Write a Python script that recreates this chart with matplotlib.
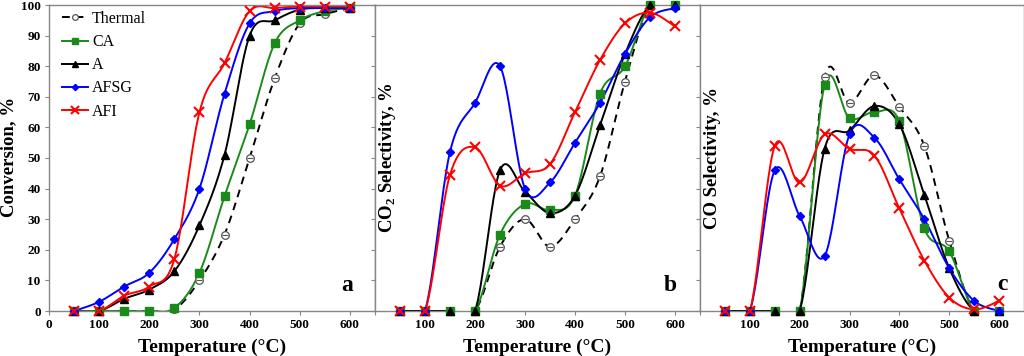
import numpy as np
import matplotlib
matplotlib.use("Agg")
import matplotlib.pyplot as plt

plt.rcParams['font.family'] = ['Liberation Serif', 'DejaVu Serif']
plt.rcParams['mathtext.fontset'] = 'custom'
plt.rcParams['mathtext.rm'] = 'Liberation Serif:bold'
plt.rcParams['mathtext.bf'] = 'Liberation Serif:bold'

temps = [50, 100, 150, 200, 250, 300, 350, 400, 450, 500, 550, 600]
series_names = ["Thermal", "CA", "A", "AFSG", "AFI"]

# Panel a: conversion, %
conv_thermal = [0, 0, 0, 0, 0.5, 10, 25, 50, 76, 94, 97, 99]
conv_ca = [0, 0, 0, 0, 1, 12.5, 37.5, 61, 87.5, 95, 98, 99]
conv_a = [0, 0, 4, 7, 13, 28, 51, 90, 95, 98.5, 99, 99]
conv_afsg = [0, 3, 8, 12.5, 23.5, 40, 71, 94, 98, 99, 99, 99]
conv_afi = [0, 0, 5, 8, 17, 65, 81, 98, 99, 99.5, 99.5, 99.5]

# Panel b: CO2 selectivity, %
co2_thermal = [0, 0, 0, 0, 21, 30, 21, 30, 44, 75, 100, 100]
co2_ca = [0, 0, 0, 0, 25, 35, 33, 37.7, 71, 80, 100, 100]
co2_a = [0, 0, 0, 0, 46, 39, 32, 37.7, 60.7, 84, 100, 100]
co2_afsg = [0, 0, 52, 68, 80, 40, 42, 55, 68, 84, 96, 99]
co2_afi = [0, 0, 44.5, 53.5, 41, 45, 48, 65, 82, 94, 97.5, 93]

# Panel c: CO selectivity, %
co_thermal = [0, 0, 0, 0, 76.4, 68, 77, 66.7, 54, 23, 0, 0]
co_ca = [0, 0, 0, 0, 74, 63, 65, 62, 27, 19.5, 0, 0]
co_a = [0, 0, 0, 0, 53, 59, 67, 61, 38, 14, 0, 0]
co_afsg = [0, 0, 46, 31, 18, 57.7, 56.6, 43, 30, 14, 3.3, 0]
co_afi = [0, 0, 54, 42, 57.7, 53, 50.8, 33.5, 16.5, 4.4, 0.5, 3.3]

panels = [
    ([conv_thermal, conv_ca, conv_a, conv_afsg, conv_afi], "Conversion, %", "a"),
    ([co2_thermal, co2_ca, co2_a, co2_afsg, co2_afi], "CO$_\\mathregular{2}$ Selectivity, %", "b"),
    ([co_thermal, co_ca, co_a, co_afsg, co_afi], "CO Selectivity, %", "c"),
]

styles = {
    "Thermal": dict(color="black", ls=(0, (4, 3)), marker="o", mfc="white", mec="#555555", ms=5.5, mew=0.9),
    "CA": dict(color="#1a8a1a", ls="-", marker="s", mfc="#1a8a1a", mec="#1a8a1a", ms=5.5, mew=1),
    "A": dict(color="black", ls="-", marker="^", mfc="black", mec="black", ms=6, mew=1),
    "AFSG": dict(color="#0000ff", ls="-", marker="D", mfc="#0000ff", mec="#0000ff", ms=4.2, mew=1),
    "AFI": dict(color="#ff0000", ls="-", marker="x", mfc="#ff0000", mec="#ff0000", ms=7, mew=1.5),
}


def smooth(x, y, n=24):
    """Excel-style smoothed line (Catmull-Rom Bezier) through the points."""
    x = np.asarray(x, float)
    y = np.asarray(y, float)
    px = np.concatenate([[x[0]], x, [x[-1]]])
    py = np.concatenate([[y[0]], y, [y[-1]]])
    xs, ys = [], []
    t = np.linspace(0, 1, n)
    for i in range(1, len(px) - 2):
        p0 = np.array([px[i], py[i]])
        p3 = np.array([px[i + 1], py[i + 1]])
        c1 = p0 + (p3 - np.array([px[i - 1], py[i - 1]])) / 6.0
        c2 = p3 - (np.array([px[i + 2], py[i + 2]]) - p0) / 6.0
        b = ((1 - t) ** 3)[:, None] * p0 + (3 * (1 - t) ** 2 * t)[:, None] * c1 \
            + (3 * (1 - t) * t ** 2)[:, None] * c2 + (t ** 3)[:, None] * p3
        xs.append(b[:, 0])
        ys.append(b[:, 1])
    return np.concatenate(xs), np.concatenate(ys)


fig = plt.figure(figsize=(10.24, 3.56), dpi=100)
H = 356.0
W = 1024.0
lefts = [49, 375, 700]
widths = [326, 325, 324]
top, bottom = 5, 311
letter_pos = [(0.914, 0.082), (0.908, 0.082), (0.932, 0.085)]

spine_col = "#868686"
for k, (data, ylab, letter) in enumerate(panels):
    ax = fig.add_axes([lefts[k] / W, (H - bottom) / H, widths[k] / W, (bottom - top) / H])
    for name, vals in zip(series_names, data):
        st = styles[name]
        sx, sy = smooth(temps, vals)
        ax.plot(sx, sy, color=st["color"], ls=st["ls"], lw=1.4, clip_on=True, zorder=2)
        ax.plot(temps, vals, ls="none", marker=st["marker"], mfc=st["mfc"], mec=st["mec"],
                ms=st["ms"], mew=st["mew"], clip_on=False, zorder=3)
        if name == "Thermal":
            ax.plot(temps, vals, ls="none", marker="_", mec="#555555", ms=st["ms"] * 0.8,
                    mew=0.8, clip_on=False, zorder=3)
        if k == 0:
            ax.plot([], [], color=st["color"], ls=st["ls"], lw=1.4, marker=st["marker"],
                    mfc=st["mfc"], mec=st["mec"], ms=st["ms"] * 0.75, mew=st["mew"], label=name)
    ax.set_xlim(0, 650)
    ax.set_ylim(0, 100)
    ax.set_xticks([0, 100, 200, 300, 400, 500, 600])
    ax.set_yticks(np.arange(0, 101, 10))
    if k == 0:
        ax.set_xticklabels(["0", "100", "200", "300", "400", "500", "600"])
        fig.text(8.5 / W, (H - 157) / H, ylab, rotation=90, ha="center", va="center",
                 fontsize=13.5, fontweight="bold")
        ax.legend(loc="upper left", bbox_to_anchor=(0.012, 1.012), frameon=False,
                  fontsize=11.5, handlelength=1.6, handletextpad=0.25, labelspacing=0.45,
                  borderaxespad=0.2)
    else:
        ax.set_xticklabels(["", "100", "200", "300", "400", "500", "600"])
        ax.set_yticklabels([])
        ax.text(0.04, 0.5, ylab, transform=ax.transAxes, rotation=90, ha="center",
                va="center", fontsize=13.5, fontweight="bold")
    ax.set_xlabel("Temperature (\u00b0C)", fontsize=14, fontweight="bold", labelpad=5)
    ax.tick_params(axis="both", direction="out", length=3, width=0.8, color=spine_col,
                   labelsize=9.5, pad=3)
    for lab in ax.get_xticklabels() + ax.get_yticklabels():
        lab.set_fontweight("bold")
    for sp in ax.spines.values():
        sp.set_color(spine_col)
        sp.set_linewidth(1.0)
    ax.text(letter_pos[k][0], letter_pos[k][1], letter, transform=ax.transAxes, ha="center",
            va="center", fontsize=17, fontweight="bold")

fig.savefig("out.png", dpi=100)
